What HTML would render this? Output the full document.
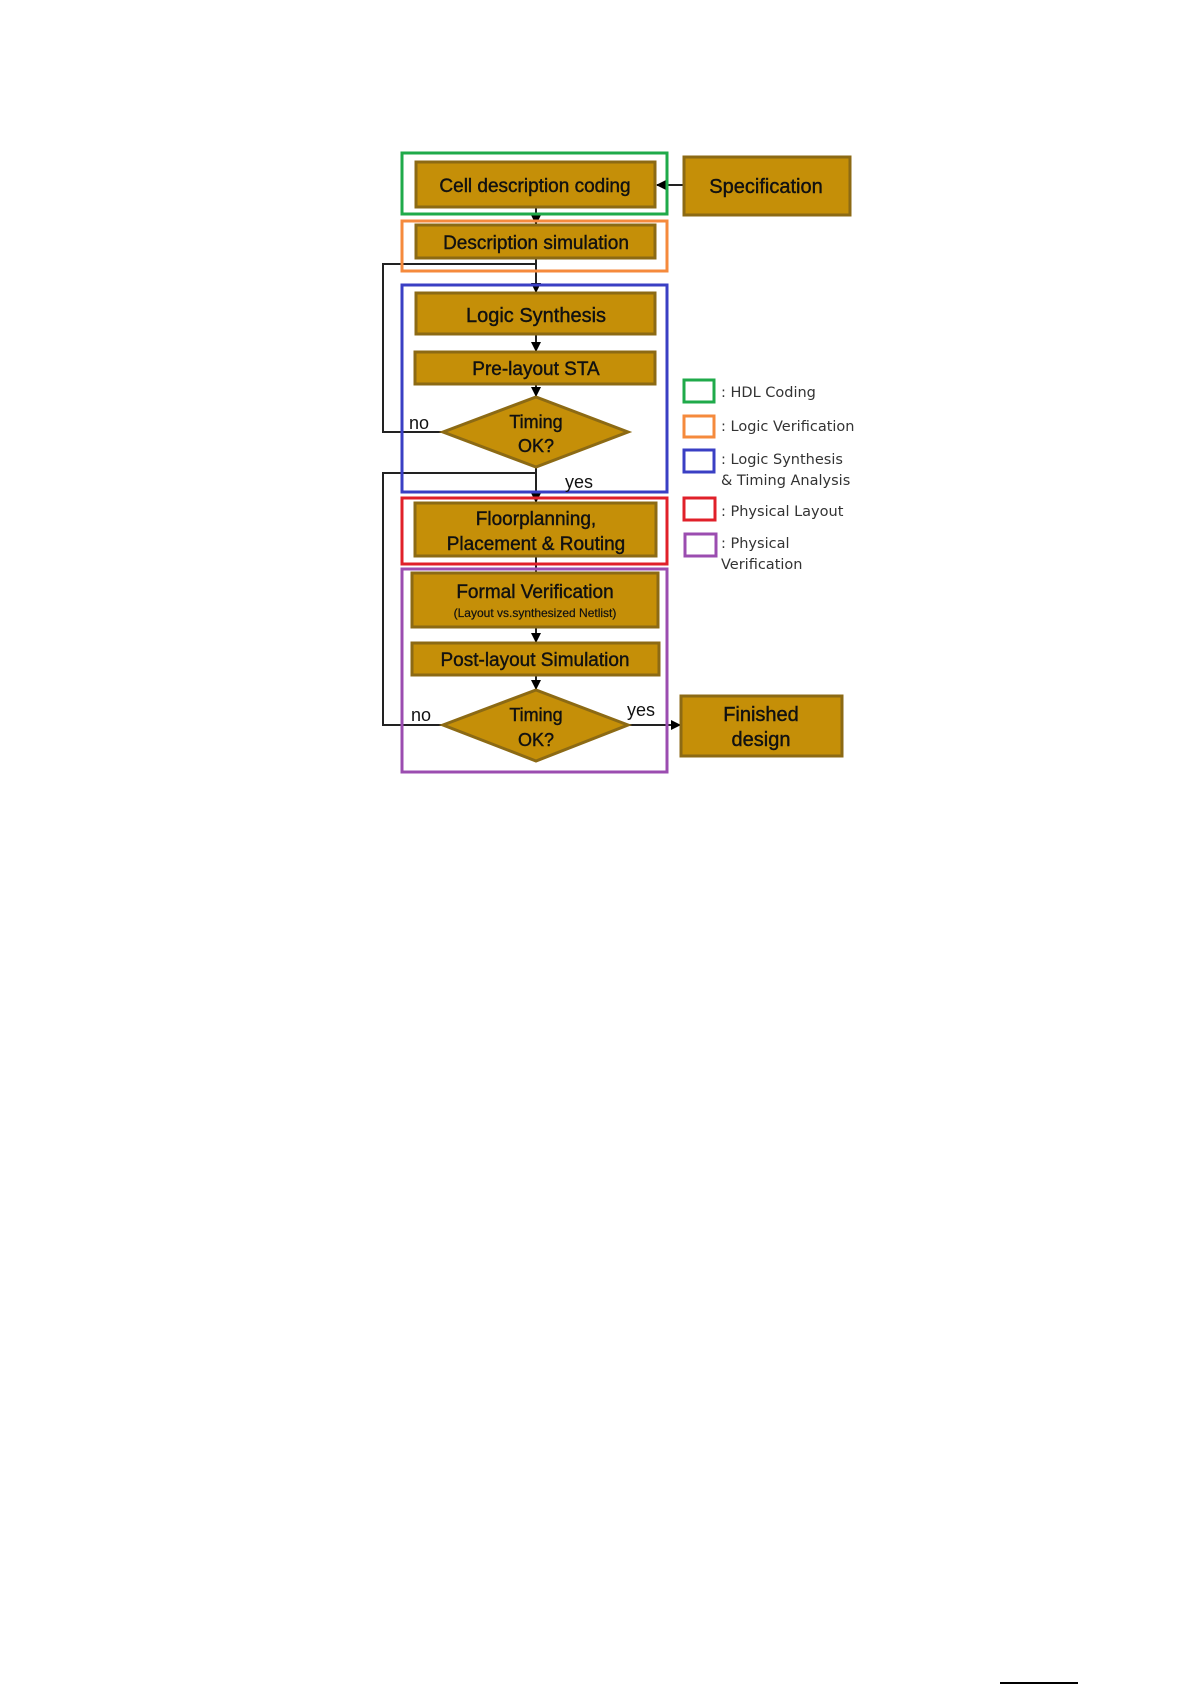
<!DOCTYPE html>
<html><head><style>
body{margin:0;background:#fff;}
svg{display:block;}
text{font-family:"Liberation Sans",sans-serif;fill:#111;}
.t text{stroke:#111;stroke-width:0.4;}
.b{fill:#c58f08;stroke:#8c6a14;stroke-width:3;}
.l{font-family:"DejaVu Sans","Liberation Sans",sans-serif;font-size:14.5px;fill:#333;}
</style></head><body>
<svg width="1193" height="1685" viewBox="0 0 1193 1685">
<defs><marker id="a" markerWidth="10" markerHeight="10" refX="9" refY="5" orient="auto" markerUnits="userSpaceOnUse"><path d="M0,0L10,5L0,10z" fill="#000"/></marker></defs>
<g stroke="#222" stroke-width="2" fill="none">
<line x1="536" y1="207" x2="536" y2="224" marker-end="url(#a)"/>
<line x1="536" y1="258" x2="536" y2="292" marker-end="url(#a)"/>
<line x1="536" y1="334" x2="536" y2="351" marker-end="url(#a)"/>
<line x1="536" y1="384" x2="536" y2="396" marker-end="url(#a)"/>
<line x1="536" y1="467" x2="536" y2="502" marker-end="url(#a)"/>
<line x1="536" y1="556" x2="536" y2="572"/>
<line x1="536" y1="627" x2="536" y2="642" marker-end="url(#a)"/>
<line x1="536" y1="675" x2="536" y2="689" marker-end="url(#a)"/>
<polyline points="443,432 383,432 383,264 536,264"/>
<polyline points="443,725 383,725 383,473 536,473"/>
<line x1="684" y1="185" x2="657" y2="185" marker-end="url(#a)"/>
<line x1="628" y1="725" x2="680" y2="725" marker-end="url(#a)"/>
</g>
<g fill="none" stroke-width="3">
<rect x="402" y="153" width="265" height="61" stroke="#1faa4a"/>
<rect x="402" y="221" width="265" height="50" stroke="#f58a3c"/>
<rect x="402" y="285" width="265" height="207" stroke="#3a3fc4"/>
<rect x="402" y="498" width="265" height="66" stroke="#e0202a"/>
<rect x="402" y="569" width="265" height="203" stroke="#9b4db0"/>
</g>
<rect class="b" x="416" y="162" width="239" height="45"/>
<rect class="b" x="684" y="157" width="166" height="58"/>
<rect class="b" x="416" y="225" width="239" height="33"/>
<rect class="b" x="416" y="293" width="239" height="41"/>
<rect class="b" x="415" y="352" width="240" height="32"/>
<polygon class="b" points="443,432 536,397 628,432 536,467"/>
<rect class="b" x="415" y="503" width="241" height="53"/>
<rect class="b" x="412" y="573" width="246" height="54"/>
<rect class="b" x="412" y="643" width="247" height="32"/>
<polygon class="b" points="443,725 536,690 628,725 536,761"/>
<rect class="b" x="681" y="696" width="161" height="60"/>
<g class="t" text-anchor="middle" font-size="19">
<text x="535" y="192">Cell description coding</text>
<text x="766" y="193" font-size="20">Specification</text>
<text x="536" y="249">Description simulation</text>
<text x="536" y="322" font-size="20">Logic Synthesis</text>
<text x="536" y="375">Pre-layout STA</text>
<text x="536" y="428" font-size="18">Timing</text>
<text x="536" y="452" font-size="18">OK?</text>
<text x="536" y="525">Floorplanning,</text>
<text x="536" y="550">Placement &amp; Routing</text>
<text x="535" y="598">Formal Verification</text>
<text x="535" y="617" font-size="12" style="stroke-width:0.2">(Layout vs.synthesized Netlist)</text>
<text x="535" y="666">Post-layout  Simulation</text>
<text x="536" y="721" font-size="18">Timing</text>
<text x="536" y="746" font-size="18">OK?</text>
<text x="761" y="721" font-size="20">Finished</text>
<text x="761" y="746" font-size="20">design</text>
</g>
<g font-size="18">
<text x="409" y="429">no</text>
<text x="565" y="488">yes</text>
<text x="411" y="721">no</text>
<text x="627" y="716">yes</text>
</g>
<g fill="none" stroke-width="3">
<rect x="684" y="380" width="30" height="22" stroke="#1faa4a"/>
<rect x="684" y="416" width="30" height="21" stroke="#f58a3c"/>
<rect x="684" y="450" width="30" height="22" stroke="#3a3fc4"/>
<rect x="684" y="498" width="31" height="22" stroke="#e0202a"/>
<rect x="685" y="534" width="31" height="22" stroke="#9b4db0"/>
</g>
<text class="l" x="721" y="397">: HDL Coding</text>
<text class="l" x="721" y="431">: Logic Verification</text>
<text class="l" x="721" y="464">: Logic Synthesis</text>
<text class="l" x="721" y="485">&amp; Timing Analysis</text>
<text class="l" x="721" y="516">: Physical Layout</text>
<text class="l" x="721" y="548">: Physical</text>
<text class="l" x="721" y="569">Verification</text>
<line x1="1000" y1="1683" x2="1078" y2="1683" stroke="#000" stroke-width="2"/>
</svg>
</body></html>
